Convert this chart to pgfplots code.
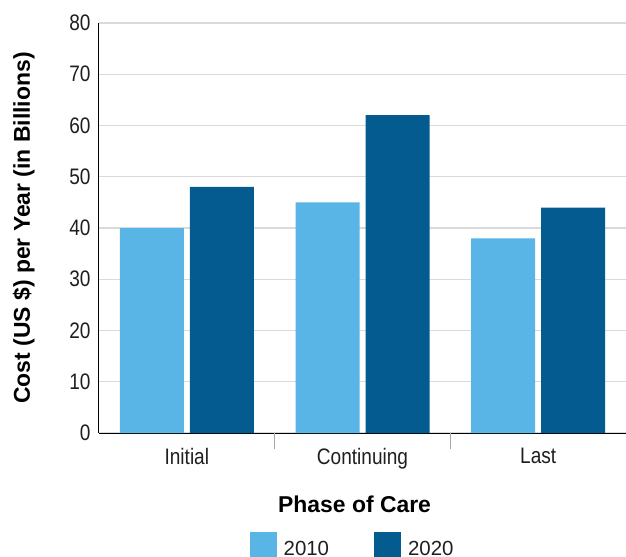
\documentclass[border=0pt]{standalone}
\usepackage{fontspec}
\setmainfont{Liberation Sans}
\newfontfamily\condfont[FakeStretch=0.85]{Liberation Sans}
\usepackage{pgfplots}
\pgfplotsset{compat=1.18}

\definecolor{costlight}{HTML}{58B5E6}
\definecolor{costdark}{HTML}{035B8F}
\definecolor{gridgray}{HTML}{DADADA}
\definecolor{sepgray}{HTML}{A8A8A8}

\pgfplotsset{
  swatch/.style={legend image code/.code={\fill[##1] (0bp,-10bp) rectangle (27bp,17bp);}}
}

\begin{document}
\begin{tikzpicture}
\useasboundingbox (-99bp,-124bp) rectangle (527bp,433bp);
\begin{axis}[
  at={(0,0)}, anchor=south west,
  scale only axis, width=527bp, height=410bp,
  xmin=0, xmax=3, ymin=0, ymax=80,
  axis x line*=bottom, axis y line*=left,
  axis line style={black, line width=1bp},
  ytick={0,10,...,80},
  ymajorgrids, grid style={gridgray, line width=1.2bp},
  y tick style={draw=none},
  xtick={0.5,1.5,2.5},
  xticklabels={Initial,Continuing,Last},
  x tick style={draw=none},
  extra x ticks={1,2},
  extra x tick labels={},
  extra x tick style={tick align=outside, major tick length=16bp,
    x tick style={draw=sepgray, line width=1bp}},
  /pgf/number format/assume math mode=true,
  ticklabel style={font=\condfont\fontsize{22.5}{24}\selectfont, text=black!88},
  y tick label style={xshift=-5bp},
  x tick label style={yshift=-12bp},
  xlabel={Phase of Care},
  ylabel={Cost (US \$) per Year (in Billions)},
  label style={font=\bfseries\fontsize{23}{26}\selectfont},
  xlabel style={at={(axis description cs:0.485,-0.1927)}, anchor=base},
  ylabel style={at={(axis description cs:-0.131,0.5)}, anchor=base},
  legend columns=2,
  legend style={at={(axis description cs:0.486,-0.274)}, anchor=center,
    draw=none, fill=none, inner sep=0pt,
    font=\fontsize{20.5}{24}\selectfont, text=black!88,
    /tikz/every even column/.append style={column sep=38bp},
    nodes={inner xsep=7bp}},
  legend cell align=left,
]
\addplot[ybar, bar width=64bp, bar shift=-35bp, fill=costlight, draw=none, swatch]
  coordinates {(0.5,40) (1.5,45) (2.5,38)};
\addlegendentry{2010}
\addplot[ybar, bar width=64bp, bar shift=35bp, fill=costdark, draw=none, swatch]
  coordinates {(0.5,48) (1.5,62) (2.5,44)};
\addlegendentry{2020}
\end{axis}
\end{tikzpicture}
\end{document}
